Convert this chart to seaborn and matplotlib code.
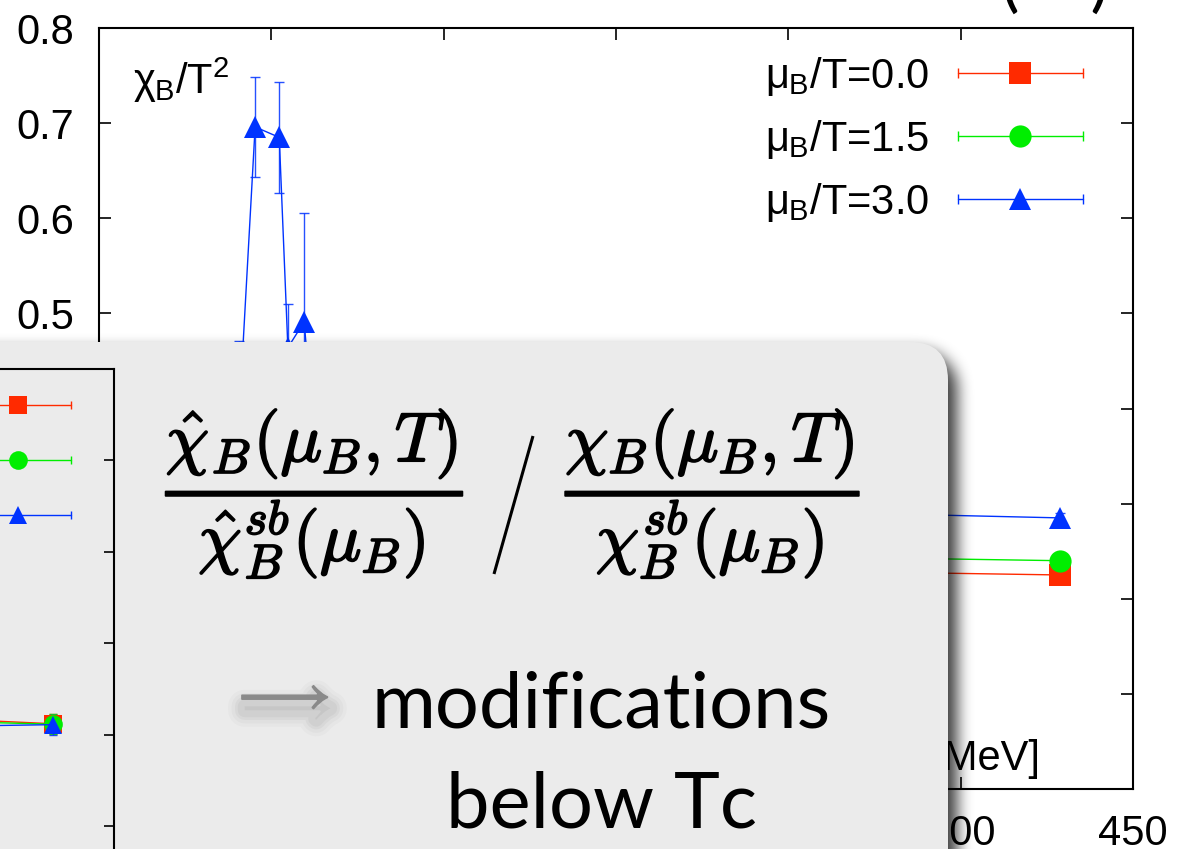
import numpy as np
import pandas as pd
import matplotlib
matplotlib.use("Agg")
import matplotlib.pyplot as plt
import matplotlib.patheffects as pe
from matplotlib.patches import FancyBboxPatch
from matplotlib.lines import Line2D
from matplotlib.legend_handler import HandlerLine2D, HandlerTuple
import seaborn as sns

# ---- data -------------------------------------------------------------
mu_labels = ["0.0", "1.5", "3.0"]

# temperatures [MeV]
temps = [165.0, 176.0, 190.6, 195.3, 202.3, 204.8, 209.5, 213.0, 221.0, 232.0, 251.0, 295.0, 357.0, 428.9]

# baryon number susceptibility chi_B/T^2
chi_mu00 = [0.040, 0.068, 0.112, 0.128, 0.148, 0.158, 0.168, 0.176, 0.188, 0.198, 0.208, 0.219, 0.229, 0.225]
chi_mu15 = [0.052, 0.090, 0.150, 0.185, 0.215, 0.220, 0.228, 0.231, 0.236, 0.240, 0.241, 0.243, 0.244, 0.240]
chi_mu30 = [0.100, 0.180, 0.389, 0.696, 0.685, 0.464, 0.491, 0.350, 0.330, 0.312, 0.302, 0.296, 0.291, 0.285]

err_mu00 = [0.004, 0.005, 0.008, 0.009, 0.010, 0.010, 0.010, 0.009, 0.008, 0.007, 0.006, 0.005, 0.004, 0.003]
err_mu15 = [0.006, 0.010, 0.020, 0.025, 0.030, 0.030, 0.028, 0.025, 0.020, 0.015, 0.010, 0.008, 0.006, 0.004]
err_mu30 = [0.020, 0.040, 0.082, 0.053, 0.058, 0.046, 0.115, 0.060, 0.040, 0.030, 0.020, 0.012, 0.008, 0.005]

# normalised ratio shown in the small panel
ratio_mu00 = [0.300, 0.360, 0.440, 0.470, 0.500, 0.510, 0.530, 0.540, 0.560, 0.580, 0.600, 0.625, 0.645, 0.624]
ratio_mu15 = [0.330, 0.400, 0.480, 0.510, 0.530, 0.540, 0.550, 0.560, 0.570, 0.590, 0.605, 0.620, 0.635, 0.623]
ratio_mu30 = [0.420, 0.500, 0.580, 0.620, 0.630, 0.610, 0.600, 0.590, 0.590, 0.595, 0.600, 0.610, 0.615, 0.622]
ratio_err = [0.030, 0.030, 0.030, 0.030, 0.030, 0.030, 0.030, 0.030, 0.025, 0.025, 0.020, 0.020, 0.020, 0.022]

x_ticks = [150, 200, 250, 300, 350, 400, 450]
y_ticks = [0.0, 0.1, 0.2, 0.3, 0.4, 0.5, 0.6, 0.7, 0.8]

# ---- style ------------------------------------------------------------
sns.set_theme(style="ticks")
plt.rcParams["font.family"] = ["Liberation Sans", "DejaVu Sans"]
plt.rcParams["mathtext.fontset"] = "custom"
plt.rcParams["mathtext.rm"] = "Liberation Sans"
plt.rcParams["mathtext.it"] = "Liberation Sans"
plt.rcParams["mathtext.bf"] = "Liberation Sans:bold"
plt.rcParams["mathtext.sf"] = "Liberation Sans"
for key in ["text.color", "axes.labelcolor", "xtick.color", "ytick.color",
            "xtick.labelcolor", "ytick.labelcolor", "axes.edgecolor"]:
    plt.rcParams[key] = "black"

colors = ["#ff2a00", "#00ee00", "#0033ff"]
marker_shapes = ["s", "o", "^"]
marker_sizes = [16, 16, 15.5]

W, H = 1179, 849
fig = plt.figure(figsize=(W / 100, H / 100), dpi=100)
fig.patch.set_facecolor("white")

# main axes in pixel geometry: x 99..1133, y 28..789
ax = fig.add_axes([99 / W, 1 - 789 / H, (1133 - 99) / W, (789 - 28) / H])
ax.set_zorder(1)

series = [chi_mu00, chi_mu15, chi_mu30]
errors = [err_mu00, err_mu15, err_mu30]
ratios = [ratio_mu00, ratio_mu15, ratio_mu30]


def long_frame(values_list):
    rows = []
    for lab, vals in zip(mu_labels, values_list):
        for t, v in zip(temps, vals):
            rows.append({"T": t, "val": v, "mu": lab})
    return pd.DataFrame(rows)


def draw_panel(axis, values_list, errs_list, msize_scale, cap):
    df = long_frame(values_list)
    for (lab, vals, errs, c) in zip(mu_labels, values_list, errs_list, colors):
        axis.errorbar(temps, vals, yerr=errs, fmt="none", ecolor=c, elinewidth=1.0,
                      capsize=cap, capthick=1.0, alpha=0.85, zorder=2)
    sns.lineplot(data=df, x="T", y="val", hue="mu", style="mu",
                 palette=dict(zip(mu_labels, colors)),
                 markers=dict(zip(mu_labels, marker_shapes)), dashes=False,
                 linewidth=1.0, markeredgewidth=0, errorbar=None, estimator=None,
                 legend=False, ax=axis, zorder=3)
    for line, ms in zip(axis.get_lines()[-3:], marker_sizes):
        line.set_markersize(ms * msize_scale)


def legend_handles(msize_scale):
    handles, hmap = [], {}
    for c, m, ms in zip(colors, marker_shapes, marker_sizes):
        bar = Line2D([], [], color=c, lw=1.0, marker="|", markersize=7 * msize_scale, mew=1.0)
        dot = Line2D([], [], color=c, ls="none", marker=m, markersize=ms * msize_scale, mew=0)
        hmap[bar] = HandlerLine2D(numpoints=2)
        hmap[dot] = HandlerLine2D(numpoints=1)
        handles.append((bar, dot))
    hmap[tuple] = HandlerTuple(ndivide=1, pad=0)
    labels = [r"$\mu_\mathrm{B}$/T=" + lab for lab in mu_labels]
    return handles, labels, hmap


draw_panel(ax, series, errors, 1.0, 3.5)
ax.set_xlim(150, 450)
ax.set_ylim(0.0, 0.8)
ax.set_xticks(x_ticks)
ax.set_yticks(y_ticks)
ax.set_xticklabels([str(v) for v in x_ticks])
ax.set_yticklabels(["0"] + [f"{v:.1f}" for v in y_ticks[1:]])
ax.set_xlabel("")
ax.set_ylabel("")
ax.tick_params(axis="both", which="major", direction="in", length=8.6, width=1.2,
               labelsize=30, pad=18, top=True, right=True, colors="black")
for sp in ax.spines.values():
    sp.set_linewidth(1.5)
    sp.set_color("black")

ax.text((133 - 99) / 1034, (789 - 80) / 761, r"$\chi_\mathrm{B}$/T$^2$", transform=ax.transAxes,
        fontsize=30, ha="left", va="center")
ax.text((1040 - 99) / 1034, (789 - 770) / 761, "T [MeV]", transform=ax.transAxes,
        fontsize=30, ha="right", va="baseline")

handles, labels, hmap = legend_handles(1.0)
ax.legend(handles, labels, handler_map=hmap, loc="upper right",
          bbox_to_anchor=(0.9636, 0.9645), frameon=False, markerfirst=False,
          fontsize=30, handlelength=3.6, handletextpad=0.4, labelspacing=0.48,
          borderpad=0, borderaxespad=0)

# ---- overlay box in pixel coordinates ---------------------------------
ov = fig.add_axes([0, 0, 1, 1])
ov.set_zorder(5)
ov.patch.set_alpha(0)
ov.axis("off")

box_x0, box_y0, box_x1, box_y1, rad = -80, 342, 948, 1000, 38


def rounded_mask(x0, y0, x1, y1, r):
    yy, xx = np.mgrid[0:H, 0:W] + 0.5
    dx = np.maximum(np.maximum(x0 + r - xx, xx - (x1 - r)), 0)
    dy = np.maximum(np.maximum(y0 + r - yy, yy - (y1 - r)), 0)
    inside = (xx >= x0) & (xx <= x1) & (yy >= y0) & (yy <= y1) & (dx ** 2 + dy ** 2 <= r ** 2)
    return inside.astype(float)


def box_blur(a, k, axis):
    pad = k // 2
    widths = [(pad, pad) if i == axis else (0, 0) for i in range(2)]
    a = np.pad(a, widths, mode="edge")
    c = np.cumsum(a, axis=axis)
    c = np.insert(c, 0, 0, axis=axis)
    if axis == 0:
        return (c[k:] - c[:-k]) / k
    return (c[:, k:] - c[:, :-k]) / k


shadow = rounded_mask(box_x0 + 9, box_y0 + 9, box_x1 + 9, box_y1 + 9, rad)
for _ in range(3):
    shadow = box_blur(shadow, 15, 0)
    shadow = box_blur(shadow, 15, 1)
rgba = np.zeros((H, W, 4))
rgba[..., 3] = 0.78 * shadow
ov.imshow(rgba, extent=(0, W, H, 0), aspect="auto", zorder=1, interpolation="bilinear")

box = FancyBboxPatch((box_x0, box_y0), box_x1 - box_x0, box_y1 - box_y0,
                     boxstyle=f"round,pad=0,rounding_size={rad}",
                     facecolor="#ebebeb", edgecolor="none", zorder=2)
ov.add_patch(box)
ov.set_xlim(0, W)
ov.set_ylim(H, 0)

bold = [pe.withStroke(linewidth=1.3, foreground="black")]
ov.text(315, 494, r"$\dfrac{\hat{\chi}_B(\mu_B,T)}{\hat{\chi}^{sb}_B(\mu_B)}$", fontsize=50,
        math_fontfamily="cm", ha="center", va="center", zorder=4, path_effects=bold)
ov.text(713, 494, r"$\dfrac{\chi_B(\mu_B,T)}{\chi^{sb}_B(\mu_B)}$", fontsize=50,
        math_fontfamily="cm", ha="center", va="center", zorder=4, path_effects=bold)
ov.plot([494, 533], [574, 436], color="black", lw=2.2, solid_capstyle="butt", zorder=4)

# soft drop shadow under the arrow
arrow_shadow = [pe.Stroke(linewidth=w, foreground="black", alpha=a, offset=(2, -8))
                for w, a in ((24, 0.02), (19, 0.025), (14, 0.03), (10, 0.035))]
ov.text(279, 697, r"$\longrightarrow$", fontsize=42, math_fontfamily="cm", color="#8a8a8a",
        ha="center", va="center", zorder=4,
        path_effects=arrow_shadow + [pe.withStroke(linewidth=1.2, foreground="#8a8a8a")])
ov.text(601, 727, "modifications", fontsize=56, family="Lato", ha="center", va="baseline",
        color="black", zorder=4)
ov.text(601, 828, "below Tc", fontsize=56, family="Lato", ha="center", va="baseline",
        color="black", zorder=4)

# partial heading at the top edge
fig.text(1055 / W, 1 - 4 / H, "(    )", fontsize=50, family="Lato", ha="center",
         va="baseline", color="black")

# ---- small panel on the box ------------------------------------------
ins_left, ins_right, ins_top, ins_bottom = -756, 114, 369, 1009
ins = fig.add_axes([ins_left / W, 1 - ins_bottom / H, (ins_right - ins_left) / W,
                    (ins_bottom - ins_top) / H])
ins.set_zorder(6)
ins.patch.set_alpha(0)
draw_panel(ins, ratios, [ratio_err] * 3, 0.84, 3.0)
ins.set_xlim(150, 450)
ins.set_ylim(0.0, 1.4)
ins.set_xticks(x_ticks)
ins.set_yticks([0.0, 0.2, 0.4, 0.6, 0.8, 1.0, 1.2, 1.4])
ins.set_xlabel("")
ins.set_ylabel("")
ins.tick_params(axis="both", direction="in", length=7.2, width=1.2, labelsize=25,
                top=True, right=True, colors="black")
for sp in ins.spines.values():
    sp.set_linewidth(1.5)
    sp.set_color("black")
h2, l2, m2 = legend_handles(0.84)
ins.legend(h2, l2, handler_map=m2, loc="upper right", bbox_to_anchor=(0.9625, 0.967),
           frameon=False, markerfirst=False, fontsize=25, handlelength=3.66,
           handletextpad=0.4, labelspacing=0.535, borderpad=0, borderaxespad=0)

fig.savefig("out.png", dpi=100)
